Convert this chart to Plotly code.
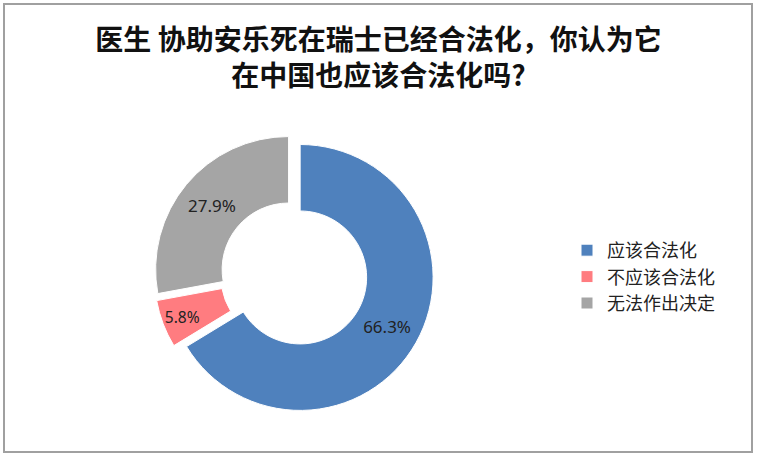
import plotly.graph_objects as go

# survey answers
labels = ["应该合法化", "不应该合法化", "无法作出决定"]
values = [66.3, 5.8, 27.9]
colors = ["#4f81bd", "#ff7c80", "#a5a5a5"]

title_text = "医生 协助安乐死在瑞士已经合法化，你认为它<br>在中国也应该合法化吗?"

W, H = 757, 457
cx, cy, R = 294, 274, 140  # pie box in pixels
explode = 0.053

fig = go.Figure(go.Pie(
    labels=labels,
    values=values,
    marker=dict(colors=colors, line=dict(color="white", width=1)),
    hole=0.5,
    sort=False,
    direction="clockwise",
    rotation=0,
    pull=[explode] * len(values),
    texttemplate="%{value:.1f}%",
    textposition="inside",
    insidetextorientation="horizontal",
    textfont=dict(family="Noto Sans, DejaVu Sans", size=17, color="#222222"),
    domain=dict(x=[(cx - R) / W, (cx + R) / W], y=[1 - (cy + R) / H, 1 - (cy - R) / H]),
    hoverinfo="label+percent",
))

fig.update_layout(
    width=W, height=H,
    margin=dict(l=0, r=0, t=0, b=0),
    paper_bgcolor="white",
    font=dict(family="Noto Sans CJK SC", color="#222222"),
    title=dict(
        text="<b>" + title_text + "</b>",
        x=0.5, xanchor="center", y=1 - 50 / H, yanchor="middle",
        font=dict(family="Noto Sans CJK SC", size=28, color="#111111"),
    ),
    legend=dict(
        x=567 / W, y=1 - 277 / H, xanchor="left", yanchor="middle",
        font=dict(family="Noto Sans CJK SC", size=18, color="#222222"),
        itemwidth=30, tracegroupgap=0,
    ),
    shapes=[dict(
        type="rect", xref="paper", yref="paper",
        x0=4 / W, x1=752 / W, y0=1 - 452 / H, y1=1 - 4 / H,
        line=dict(color="#a0a0a0", width=2),
    )],
)

# page has a default body margin, drop it so the chart fills the window
fig.write_html("out.html", config={"displayModeBar": False},
               post_script="document.body.style.margin='0';")
